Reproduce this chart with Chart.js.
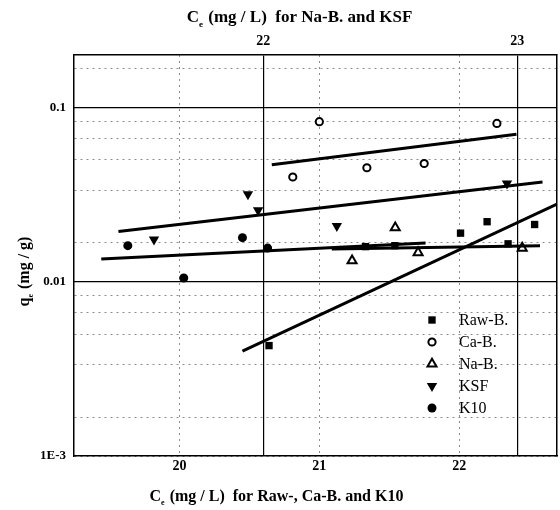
<!DOCTYPE html>
<html>
<head>
<meta charset="utf-8">
<script src="https://cdn.jsdelivr.net/npm/chart.js@4.4.0/dist/chart.umd.min.js"></script>
<style>
  body { margin: 0; background: #fff; }
  #wrap { width: 560px; height: 510px; }
</style>
</head>
<body>
<div id="wrap"><canvas id="isoChart" width="560" height="510"></canvas></div>
<script>
// Ce (mg/L) on the bottom axis for Raw-B., Ca-B. and K10, on the top axis for Na-B. and KSF
var rawX = [20.64, 21.33, 21.54, 22.01, 22.20, 22.35, 22.54];
var rawY = [0.0043, 0.0159, 0.0161, 0.0190, 0.0221, 0.0165, 0.0213];
var caX = [20.81, 21.00, 21.34, 21.75, 22.27];
var caY = [0.0399, 0.0829, 0.0451, 0.0477, 0.0810];
var naX = [22.35, 22.52, 22.61, 23.02];
var naY = [0.0132, 0.0204, 0.0147, 0.0156];
var ksfX = [21.57, 21.94, 21.98, 22.29, 22.96];
var ksfY = [0.0175, 0.0318, 0.0257, 0.0209, 0.0366];
var k10X = [19.63, 20.03, 20.45, 20.63];
var k10Y = [0.0161, 0.0105, 0.0179, 0.0156];

// fitted lines, start and end points
var rawFitX = [20.45, 22.70];
var rawFitY = [0.0040, 0.0279];
var caFitX = [20.66, 22.41];
var caFitY = [0.0469, 0.0701];
var naFitX = [22.27, 23.09];
var naFitY = [0.0154, 0.0161];
var ksfFitX = [21.43, 23.10];
var ksfFitY = [0.0194, 0.0373];
var k10FitX = [19.44, 21.76];
var k10FitY = [0.0135, 0.0167];

var bottomTicks = [20, 21, 22];
var topTicks = [22, 23];
var yTicks = [0.001, 0.00167, 0.00333, 0.005, 0.00667, 0.00833, 0.01, 0.0167, 0.0333, 0.05, 0.0667, 0.0833, 0.1, 0.167];
var yMajor = [0.01, 0.1];
var yLabelValues = [0.001, 0.01, 0.1];
var yLabelText = ['1E-3', '0.01', '0.1'];

var serif = "'Liberation Serif', 'Times New Roman', serif";

var markers = {
  raw: { pointStyle: 'rect', radius: 5.2, rotation: 0, fill: '#000', borderWidth: 0 },
  ca: { pointStyle: 'circle', radius: 3.6, rotation: 0, fill: '#fff', borderWidth: 2 },
  na: { pointStyle: 'triangle', radius: 5.2, rotation: 0, fill: '#fff', borderWidth: 2 },
  ksf: { pointStyle: 'triangle', radius: 6, rotation: 180, fill: '#000', borderWidth: 0 },
  k10: { pointStyle: 'circle', radius: 4.5, rotation: 0, fill: '#000', borderWidth: 0 }
};

var legendRows = [
  { label: 'Raw-B.', m: markers.raw },
  { label: 'Ca-B.', m: markers.ca },
  { label: 'Na-B.', m: markers.na },
  { label: 'KSF', m: markers.ksf },
  { label: 'K10', m: markers.k10 }
];

function pts(xs, ys) {
  var out = [];
  for (var i = 0; i < xs.length; i++) out.push({ x: xs[i], y: ys[i] });
  return out;
}

function pointSet(label, xs, ys, axis, m) {
  return {
    label: label,
    data: pts(xs, ys),
    xAxisID: axis,
    yAxisID: 'y',
    showLine: false,
    pointStyle: m.pointStyle,
    pointRadius: m.radius,
    pointRotation: m.rotation,
    pointBackgroundColor: m.fill,
    pointBorderColor: '#000',
    pointBorderWidth: m.borderWidth
  };
}

function fitSet(xs, ys, axis) {
  return {
    data: pts(xs, ys),
    xAxisID: axis,
    yAxisID: 'y',
    showLine: true,
    borderColor: '#000',
    borderWidth: 3,
    pointRadius: 0
  };
}

function setTicks(list) {
  return function(scale) {
    scale.ticks = list.map(function(v) { return { value: v }; });
  };
}

function near(a, b) { return Math.abs(a - b) / b < 0.01; }

// draws "C" + subscript "e" + rest, centred on x
function subText(ctx, main, sub, rest, x, y, size, weight) {
  var big = weight + ' ' + size + 'px ' + serif;
  var small = weight + ' ' + Math.round(size * 0.5) + 'px ' + serif;
  ctx.font = big;
  var w1 = ctx.measureText(main).width;
  var w3 = ctx.measureText(rest).width;
  ctx.font = small;
  var w2 = ctx.measureText(sub).width;
  var left = x - (w1 + w2 + w3) / 2;
  ctx.textAlign = 'left';
  ctx.textBaseline = 'alphabetic';
  ctx.font = big;
  ctx.fillText(main, left, y);
  ctx.font = small;
  ctx.fillText(sub, left + w1, y + size * 0.28);
  ctx.font = big;
  ctx.fillText(rest, left + w1 + w2 + 1, y);
}

var axisTitles = {
  id: 'axisTitles',
  afterDraw: function(chart) {
    var ctx = chart.ctx;
    ctx.save();
    ctx.fillStyle = '#000';
    subText(ctx, 'C', 'e', ' (mg / L)  for Na-B. and KSF', 299, 22, 17, 'bold');
    subText(ctx, 'C', 'e', ' (mg / L)  for Raw-, Ca-B. and K10', 276, 501, 16, 'bold');
    ctx.translate(24, 272);
    ctx.rotate(-Math.PI / 2);
    subText(ctx, 'q', 'e', ' (mg / g)', 0, 5, 16, 'bold');
    ctx.restore();
  }
};

var markerLegend = {
  id: 'markerLegend',
  afterDatasetsDraw: function(chart) {
    var ctx = chart.ctx;
    ctx.save();
    for (var i = 0; i < legendRows.length; i++) {
      var row = legendRows[i];
      var y = 320 + i * 22;
      ctx.fillStyle = row.m.fill;
      ctx.strokeStyle = '#000';
      ctx.lineWidth = row.m.borderWidth;
      Chart.helpers.drawPoint(ctx, {
        pointStyle: row.m.pointStyle,
        radius: row.m.radius,
        rotation: row.m.rotation,
        borderWidth: row.m.borderWidth
      }, 432, y);
      ctx.fillStyle = '#000';
      ctx.font = '16px ' + serif;
      ctx.textAlign = 'left';
      ctx.textBaseline = 'middle';
      ctx.fillText(row.label, 459, y + 1);
    }
    ctx.restore();
  }
};

var tickFont = { family: serif, size: 14, weight: 'bold' };

new Chart(document.getElementById('isoChart'), {
  type: 'scatter',
  data: {
    datasets: [
      fitSet(rawFitX, rawFitY, 'x'),
      fitSet(caFitX, caFitY, 'x'),
      fitSet(naFitX, naFitY, 'x2'),
      fitSet(ksfFitX, ksfFitY, 'x2'),
      fitSet(k10FitX, k10FitY, 'x'),
      pointSet('Raw-B.', rawX, rawY, 'x', markers.raw),
      pointSet('Ca-B.', caX, caY, 'x', markers.ca),
      pointSet('Na-B.', naX, naY, 'x2', markers.na),
      pointSet('KSF', ksfX, ksfY, 'x2', markers.ksf),
      pointSet('K10', k10X, k10Y, 'x', markers.k10)
    ]
  },
  options: {
    responsive: false,
    animation: false,
    events: [],
    layout: { autoPadding: false, padding: { left: 0, right: 3, top: 0, bottom: 0 } },
    plugins: { legend: { display: false }, tooltip: { enabled: false } },
    scales: {
      x: {
        type: 'linear',
        position: 'bottom',
        min: 19.245,
        max: 22.70,
        afterBuildTicks: setTicks(bottomTicks),
        afterFit: function(scale) { scale.height = 54; },
        grid: { color: '#8c8c8c', lineWidth: 1, drawTicks: false },
        border: { color: '#000', width: 1.5, dash: [2, 4] },
        ticks: { font: tickFont, color: '#000', padding: 2, autoSkip: false, maxRotation: 0 }
      },
      x2: {
        type: 'linear',
        position: 'top',
        min: 21.255,
        max: 23.157,
        afterBuildTicks: setTicks(topTicks),
        afterFit: function(scale) { scale.height = 55; },
        grid: { color: '#000', lineWidth: 1.2, drawTicks: false },
        border: { color: '#000', width: 1.5 },
        ticks: { font: tickFont, color: '#000', padding: 5, autoSkip: false, maxRotation: 0 }
      },
      y: {
        type: 'logarithmic',
        position: 'left',
        min: 0.001,
        max: 0.2,
        afterBuildTicks: setTicks(yTicks),
        afterFit: function(scale) { scale.width = 74; },
        grid: { color: '#8c8c8c', lineWidth: 1, drawTicks: false },
        border: { color: '#000', width: 1.5, dash: [2, 4] },
        ticks: {
          font: { family: serif, size: 13, weight: 'bold' },
          color: '#000',
          padding: 8,
          autoSkip: false,
          callback: function(value) {
            for (var i = 0; i < yLabelValues.length; i++) {
              if (near(value, yLabelValues[i])) return yLabelText[i];
            }
            return '';
          }
        }
      },
      y2: {
        type: 'logarithmic',
        position: 'right',
        min: 0.001,
        max: 0.2,
        afterBuildTicks: setTicks(yMajor),
        afterFit: function(scale) { scale.width = 0; },
        grid: { color: '#000', lineWidth: 1.2, drawTicks: false },
        border: { color: '#000', width: 1.5 },
        ticks: { display: false }
      }
    }
  },
  plugins: [axisTitles, markerLegend]
});
</script>
</body>
</html>
